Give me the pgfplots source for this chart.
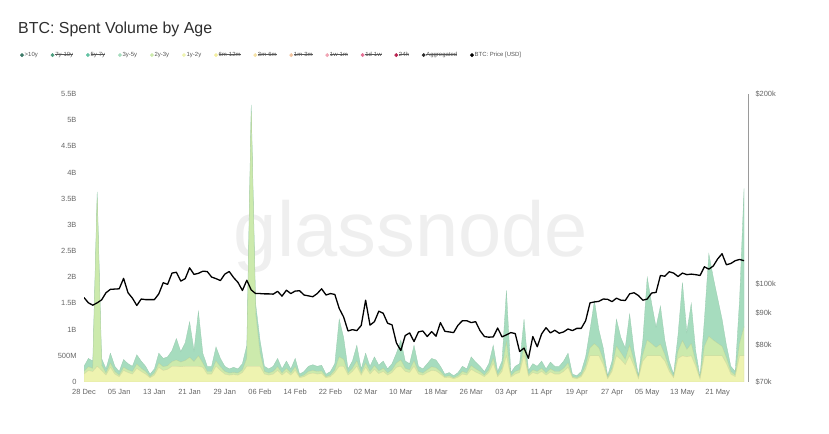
\documentclass[border=0pt]{standalone}
\usepackage{pgfplots}
\pgfplotsset{compat=1.18}
\usepackage{pgfplotstable}
\usepackage{fontspec}
\setmainfont{Liberation Sans}

% series colours
\definecolor{cA}{HTML}{3D7A68}   % >10y
\definecolor{cB}{HTML}{4A9C7D}   % 7y-10y
\definecolor{cC}{HTML}{62C2A3}   % 5y-7y
\definecolor{cD}{HTML}{A6DCBE}   % 3y-5y
\definecolor{cE}{HTML}{CCEAAC}   % 2y-3y
\definecolor{cF}{HTML}{EEF3B0}   % 1y-2y
\definecolor{cG}{HTML}{F3EEA0}   % 6m-12m
\definecolor{cH}{HTML}{F5E2A6}   % 3m-6m
\definecolor{cI}{HTML}{F2C49F}   % 1m-3m
\definecolor{cJ}{HTML}{F0A5B4}   % 1w-1m
\definecolor{cK}{HTML}{E56F94}   % 1d-1w
\definecolor{cL}{HTML}{B8214F}   % 24h
\definecolor{cM}{HTML}{2B2B2B}   % aggregated
\definecolor{titlegray}{HTML}{2E2E2E}
\definecolor{tickgray}{HTML}{666666}
\definecolor{leggray}{HTML}{555555}
\definecolor{axgray}{HTML}{9A9A9A}
\definecolor{wm}{HTML}{EFEFEF}

% struck-through legend text for hidden series
\newcommand{\strk}[1]{\setbox0=\hbox{#1}\rlap{\rule[0.3em]{\wd0}{0.4pt}}\box0}

\pgfplotsset{
  dotleg/.style={legend image code/.code={\fill[#1] (1.8bp,0bp) circle (1.7bp);}},
}

% day index (0 = 28 Dec), spent volume per age band [billion USD], BTC price [USD]
\pgfplotstableread{
d y12 y23 y35 price
0 0.15 0.05 0.10 95200
1 0.22 0.07 0.16 93400
2 0.20 0.06 0.14 92600
3 0.30 3.20 0.13 93400
4 0.22 0.10 0.13 94400
5 0.13 0.04 0.08 96900
6 0.28 0.08 0.19 98100
7 0.15 0.05 0.10 98200
8 0.10 0.03 0.07 98300
9 0.22 0.06 0.15 102100
10 0.18 0.05 0.12 96900
11 0.15 0.05 0.10 95000
12 0.26 0.08 0.18 92500
13 0.20 0.06 0.14 94700
14 0.15 0.05 0.10 94500
15 0.08 0.02 0.05 94500
16 0.13 0.04 0.08 94500
17 0.28 0.08 0.19 96500
18 0.22 0.07 0.16 100500
19 0.24 0.07 0.17 99900
20 0.30 0.09 0.21 104100
21 0.30 0.12 0.41 104400
22 0.29 0.09 0.20 101100
23 0.30 0.11 0.34 102000
24 0.30 0.17 0.68 106100
25 0.30 0.09 0.21 103600
26 0.30 0.20 0.85 104000
27 0.28 0.08 0.19 104800
28 0.15 0.05 0.10 104700
29 0.15 0.05 0.10 102600
30 0.30 0.10 0.27 102000
31 0.22 0.07 0.16 101300
32 0.15 0.05 0.10 103700
33 0.13 0.04 0.08 104700
34 0.14 0.04 0.10 102400
35 0.13 0.04 0.08 100600
36 0.18 0.05 0.12 97700
37 0.30 0.15 0.25 101400
38 0.30 4.85 0.14 97900
39 0.30 1.00 0.20 96600
40 0.30 0.25 0.25 96600
41 0.15 0.05 0.10 96500
42 0.13 0.04 0.08 96500
43 0.15 0.05 0.10 96400
44 0.22 0.07 0.16 97400
45 0.13 0.04 0.08 95700
46 0.20 0.06 0.14 97800
47 0.13 0.04 0.08 96600
48 0.22 0.07 0.16 97500
49 0.08 0.02 0.05 97600
50 0.10 0.03 0.07 96100
51 0.15 0.05 0.10 95800
52 0.17 0.05 0.11 95500
53 0.15 0.05 0.10 96600
54 0.16 0.05 0.11 98300
55 0.08 0.02 0.05 96100
56 0.10 0.03 0.07 96600
57 0.18 0.05 0.12 96300
58 0.30 0.18 0.72 91500
59 0.30 0.13 0.42 88700
60 0.13 0.04 0.08 84300
61 0.20 0.06 0.14 84700
62 0.30 0.10 0.30 84400
63 0.13 0.04 0.08 86000
64 0.28 0.08 0.19 94300
65 0.15 0.05 0.10 86100
66 0.24 0.07 0.17 87200
67 0.16 0.05 0.11 90600
68 0.20 0.06 0.14 89900
69 0.13 0.04 0.08 86700
70 0.18 0.05 0.12 86200
71 0.28 0.08 0.19 80700
72 0.30 0.12 0.38 78500
73 0.20 0.06 0.14 82900
74 0.18 0.05 0.12 83700
75 0.30 0.10 0.30 81100
76 0.15 0.05 0.10 84000
77 0.13 0.04 0.08 84300
78 0.18 0.05 0.12 82600
79 0.22 0.07 0.16 84100
80 0.21 0.06 0.15 82700
81 0.15 0.05 0.10 86900
82 0.08 0.02 0.05 84200
83 0.09 0.03 0.06 84000
84 0.06 0.02 0.04 83800
85 0.09 0.03 0.06 86100
86 0.15 0.05 0.10 87500
87 0.13 0.04 0.08 87500
88 0.24 0.07 0.17 86900
89 0.19 0.06 0.13 87200
90 0.15 0.05 0.10 84400
91 0.10 0.03 0.07 82600
92 0.18 0.05 0.12 82400
93 0.35 0.10 0.25 82500
94 0.10 0.03 0.07 85200
95 0.20 0.06 0.14 82500
96 0.50 0.26 0.99 83100
97 0.09 0.03 0.06 83800
98 0.15 0.05 0.10 83500
99 0.18 0.05 0.12 78200
100 0.50 0.18 0.52 79200
101 0.11 0.03 0.08 76300
102 0.18 0.05 0.12 82600
103 0.15 0.05 0.10 79600
104 0.20 0.06 0.14 83400
105 0.13 0.04 0.08 85300
106 0.19 0.06 0.13 83700
107 0.15 0.05 0.10 84500
108 0.15 0.05 0.10 83600
109 0.20 0.06 0.14 84000
110 0.28 0.08 0.19 84900
111 0.08 0.02 0.05 84400
112 0.06 0.02 0.04 85100
113 0.10 0.03 0.07 85100
114 0.24 0.07 0.17 87500
115 0.50 0.15 0.35 93400
116 0.50 0.23 0.82 93700
117 0.50 0.15 0.35 93900
118 0.33 0.10 0.22 94700
119 0.06 0.02 0.04 94600
120 0.20 0.06 0.14 93800
121 0.50 0.18 0.52 95000
122 0.43 0.13 0.29 94300
123 0.33 0.10 0.22 94200
124 0.50 0.20 0.60 96500
125 0.30 0.09 0.21 96900
126 0.06 0.02 0.04 95900
127 0.40 0.12 0.28 94300
128 0.50 0.30 1.20 94700
129 0.50 0.23 0.77 96800
130 0.50 0.16 0.39 97000
131 0.50 0.22 0.73 103200
132 0.40 0.12 0.28 102900
133 0.20 0.06 0.14 104600
134 0.08 0.02 0.05 104100
135 0.45 0.14 0.31 102800
136 0.50 0.29 1.11 104100
137 0.48 0.14 0.33 103500
138 0.50 0.23 0.77 103700
139 0.30 0.09 0.21 103500
140 0.05 0.02 0.03 103200
141 0.50 0.18 0.52 106500
142 0.50 0.37 1.58 105600
143 0.50 0.30 1.20 106800
144 0.50 0.24 0.86 109600
145 0.50 0.18 0.52 111700
146 0.35 0.11 0.24 107300
147 0.15 0.05 0.10 107800
148 0.10 0.03 0.07 108900
149 0.50 0.24 0.86 109400
150 0.50 0.55 2.65 108900
}\voldata

\begin{document}
\begin{tikzpicture}
\useasboundingbox (0,0) rectangle (829bp,434bp);

% title and watermark
\node[anchor=base west, font=\fontsize{16}{18}\selectfont, text=titlegray, inner sep=0]
  at (18bp,400bp) {BTC: Spent Volume by Age};
\node[anchor=base, font=\fontsize{78}{80}\selectfont, text=wm, inner sep=0]
  at (411bp,177bp) {glassnode};

% spent volume, stacked by age band
\begin{axis}[
  at={(84bp,52bp)}, anchor=south west,
  scale only axis, width=664bp, height=288bp,
  xmin=0, xmax=150.9, ymin=0, ymax=5.5,
  stack plots=y,
  axis line style={draw=none},
  major tick length=0,
  xtick={0,8,16,24,32,40,48,56,64,72,80,88,96,104,112,120,128,136,144},
  xticklabels={28 Dec,05 Jan,13 Jan,21 Jan,29 Jan,06 Feb,14 Feb,22 Feb,02 Mar,10 Mar,18 Mar,26 Mar,03 Apr,11 Apr,19 Apr,27 Apr,05 May,13 May,21 May},
  ytick={0,0.5,1,1.5,2,2.5,3,3.5,4,4.5,5,5.5},
  yticklabels={0,500M,1B,1.5B,2B,2.5B,3B,3.5B,4B,4.5B,5B,5.5B},
  tick label style={font=\fontsize{7.5}{9}\selectfont, text=tickgray},
  xticklabel style={yshift=-4bp},
  yticklabel style={xshift=-4bp},
]
\addplot[fill=cF, draw=cF!90!black, line width=0.3bp, forget plot] table[x=d,y=y12]{\voldata} \closedcycle;
\addplot[fill=cE, draw=cE!92!black, line width=0.3bp, forget plot] table[x=d,y=y23]{\voldata} \closedcycle;
\addplot[fill=cD, draw=cD!92!black, line width=0.3bp, forget plot] table[x=d,y=y35]{\voldata} \closedcycle;
\end{axis}

% BTC price on a logarithmic right-hand axis
\begin{axis}[
  at={(84bp,52bp)}, anchor=south west,
  scale only axis, width=664bp, height=288bp,
  xmin=0, xmax=150.9,
  ymode=log, ymin=70000, ymax=200000,
  axis y line*=right, axis x line=none,
  xtick=\empty,
  y axis line style={draw=axgray, line width=0.7bp},
  major tick length=0, minor tick length=0,
  ytick={70000,80000,90000,100000,200000},
  yticklabels={\$70k,\$80k,\$90k,\$100k,\$200k},
  tick label style={font=\fontsize{7.5}{9}\selectfont, text=tickgray},
  yticklabel style={xshift=4bp},
  legend columns=-1,
  legend style={at={(-0.101,1.135)}, anchor=west, draw=none, fill=none,
    font=\fontsize{6}{7}\selectfont, text=leggray,
    nodes={inner sep=0.8bp},
    /tikz/every even column/.append style={column sep=12bp}},
]
\addlegendimage{dotleg=cA}\addlegendentry{>10y}
\addlegendimage{dotleg=cB}\addlegendentry{\strk{7y-10y}}
\addlegendimage{dotleg=cC}\addlegendentry{\strk{5y-7y}}
\addlegendimage{dotleg=cD}\addlegendentry{3y-5y}
\addlegendimage{dotleg=cE}\addlegendentry{2y-3y}
\addlegendimage{dotleg=cF}\addlegendentry{1y-2y}
\addlegendimage{dotleg=cG}\addlegendentry{\strk{6m-12m}}
\addlegendimage{dotleg=cH}\addlegendentry{\strk{3m-6m}}
\addlegendimage{dotleg=cI}\addlegendentry{\strk{1m-3m}}
\addlegendimage{dotleg=cJ}\addlegendentry{\strk{1w-1m}}
\addlegendimage{dotleg=cK}\addlegendentry{\strk{1d-1w}}
\addlegendimage{dotleg=cL}\addlegendentry{\strk{24h}}
\addlegendimage{dotleg=cM}\addlegendentry{\strk{Aggregated}}
\addlegendimage{dotleg=black}\addlegendentry{BTC: Price [USD]}
\addplot[black, line width=1.3bp, line join=round, forget plot] table[x=d,y=price]{\voldata};
\end{axis}
\end{tikzpicture}
\end{document}
